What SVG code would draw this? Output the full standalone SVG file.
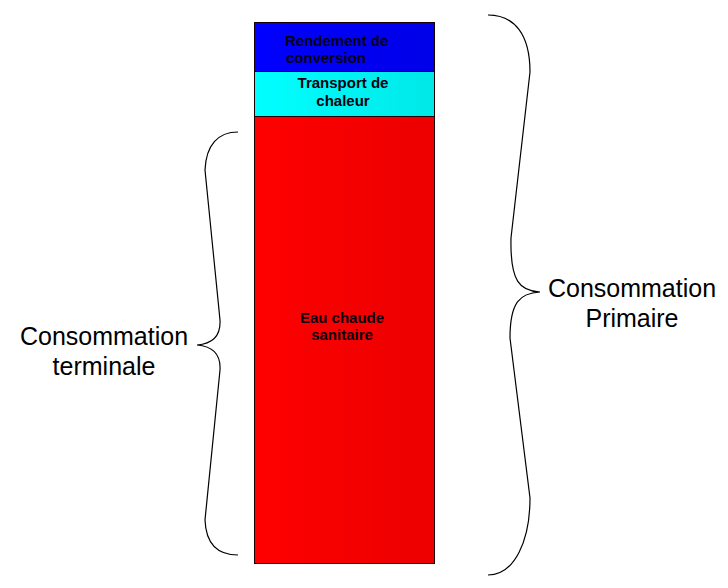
<svg xmlns="http://www.w3.org/2000/svg" width="728" height="588" viewBox="0 0 728 588">
<defs>
<linearGradient id="gBlue" x1="0" y1="0" x2="1" y2="0"><stop offset="0" stop-color="#0000ff"/><stop offset="1" stop-color="#0000e8"/></linearGradient>
<linearGradient id="gCyan" x1="0" y1="0" x2="1" y2="0"><stop offset="0" stop-color="#00ffff"/><stop offset="1" stop-color="#00e8e8"/></linearGradient>
<linearGradient id="gRed" x1="0" y1="0" x2="1" y2="0"><stop offset="0" stop-color="#ff0000"/><stop offset="1" stop-color="#ec0000"/></linearGradient>
<style>
.seg{stroke:#1a0000;stroke-width:1}
.lbl{font-family:"Liberation Sans",Arial,sans-serif;font-size:15px;font-weight:bold;fill:#0a0010}
.big{font-family:"Liberation Sans",Arial,sans-serif;font-size:25px;fill:#000;text-anchor:middle}
.brace{fill:none;stroke:#000;stroke-width:1.2}
</style>
</defs>
<rect width="728" height="588" fill="#fff"/>
<g id="rendement">
<rect class="seg" x="254.5" y="22.5" width="180" height="49" fill="url(#gBlue)"/>
<text class="lbl" x="285" y="46">Rendement de</text>
<text class="lbl" x="286" y="63">conversion</text>
</g>
<g id="transport">
<rect class="seg" x="254.5" y="71.5" width="180" height="45" fill="url(#gCyan)"/>
<text class="lbl" x="343" y="88" text-anchor="middle">Transport de</text>
<text class="lbl" x="343" y="106" text-anchor="middle">chaleur</text>
</g>
<g id="eau">
<rect class="seg" x="254.5" y="116.5" width="180" height="447" fill="url(#gRed)"/>
<text class="lbl" x="342" y="323" text-anchor="middle">Eau chaude</text>
<text class="lbl" x="342" y="340" text-anchor="middle">sanitaire</text>
</g>
<g id="connectors">
<path class="brace" d="M238,132 C218,132 206,145 205,170 L220,320 C221,338 210,344 197,345 C210,346 221,352 220,370 L205,520 C206,545 218,555 238,555"/>
<path class="brace" d="M488,15 C515,15 530,35 530,72 L511,238 C510,282 520,291 540,292 C520,293 510,302 510,338 L530,498 C530,540 515,575 488,575"/>
</g>
<g id="terminale">
<text class="big" x="104" y="345">Consommation</text>
<text class="big" x="104" y="375">terminale</text>
</g>
<g id="primaire">
<text class="big" x="632" y="297">Consommation</text>
<text class="big" x="632" y="327">Primaire</text>
</g>
</svg>
